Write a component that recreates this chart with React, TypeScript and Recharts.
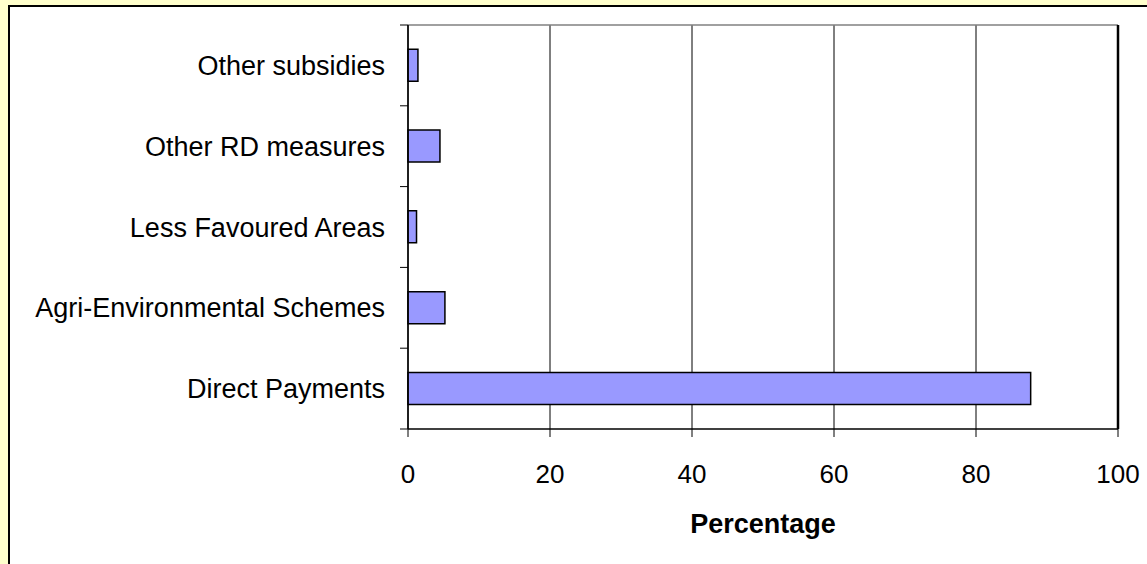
import React from 'react';
import { BarChart, Bar, XAxis, YAxis, CartesianGrid } from 'recharts';

const categories = ['Other subsidies', 'Other RD measures', 'Less Favoured Areas', 'Agri-Environmental Schemes', 'Direct Payments'];
const percentages = [1.4, 4.5, 1.2, 5.2, 87.7];
const xTicks = [0, 20, 40, 60, 80, 100];

const data = categories.map((name, i) => ({ name, value: percentages[i] }));

const FONT = '"Liberation Sans", Arial, sans-serif';

const CategoryTick = (props: any) => {
  const { x, y, payload, index, visibleTicksCount } = props;
  const off = payload.offset || 0;
  const axisX = x + 8;
  const last = index === (visibleTicksCount ?? categories.length) - 1;
  return (
    <g>
      <line x1={axisX - 8} x2={axisX} y1={y - off} y2={y - off} stroke="#000" strokeWidth={1} />
      {last && <line x1={axisX - 8} x2={axisX} y1={y + off} y2={y + off} stroke="#000" strokeWidth={1} />}
      <text x={x - 15} y={y} dy="0.355em" textAnchor="end" fill="#000" fontSize={27} fontFamily={FONT}>
        {payload.value}
      </text>
    </g>
  );
};

export default function App() {
  return (
    <div style={{ position: 'fixed', left: 0, top: 0, width: 1147, height: 564, background: '#FFFFCC', overflow: 'hidden' }}>
      <div style={{ position: 'absolute', left: 8, top: 5, width: 1160, height: 580, background: '#fff', borderLeft: '2px solid #000', borderTop: '2px solid #000' }} />
      <div style={{ position: 'absolute', left: 0, top: 0 }}>
        <BarChart
          width={1147}
          height={564}
          data={data}
          layout="vertical"
          margin={{ top: 24, right: 28, bottom: 25, left: 0 }}
          barCategoryGap="30%"
        >
          <CartesianGrid horizontal={false} vertical stroke="#000" strokeOpacity={1} />
          <XAxis
            type="number"
            domain={[0, 100]}
            ticks={xTicks}
            interval={0}
            height={110}
            axisLine={{ stroke: '#000', strokeWidth: 1.5 }}
            tickLine={{ stroke: '#000' }}
            tickSize={8}
            tickMargin={28}
            tick={{ fontSize: 26, fill: '#000', fontFamily: FONT }}
            label={{ value: 'Percentage', position: 'insideBottom', offset: 6, fontSize: 27, fontWeight: 'bold', fill: '#000', fontFamily: FONT }}
          />
          <XAxis
            xAxisId="top"
            orientation="top"
            type="number"
            domain={[0, 100]}
            height={1}
            tick={false}
            tickLine={false}
            axisLine={{ stroke: '#808080', strokeWidth: 1.5 }}
          />
          <YAxis
            type="category"
            dataKey="name"
            width={408}
            interval={0}
            tickLine={false}
            tickSize={8}
            tickMargin={0}
            axisLine={{ stroke: '#000', strokeWidth: 1.5 }}
            tick={<CategoryTick />}
          />
          <YAxis
            yAxisId="right"
            orientation="right"
            type="category"
            dataKey="name"
            width={1}
            tick={false}
            tickLine={false}
            axisLine={{ stroke: '#000', strokeWidth: 2.5 }}
          />
          <Bar dataKey="value" fill="#9999FF" stroke="#000" strokeWidth={1.5} isAnimationActive={false} />
        </BarChart>
      </div>
    </div>
  );
}
